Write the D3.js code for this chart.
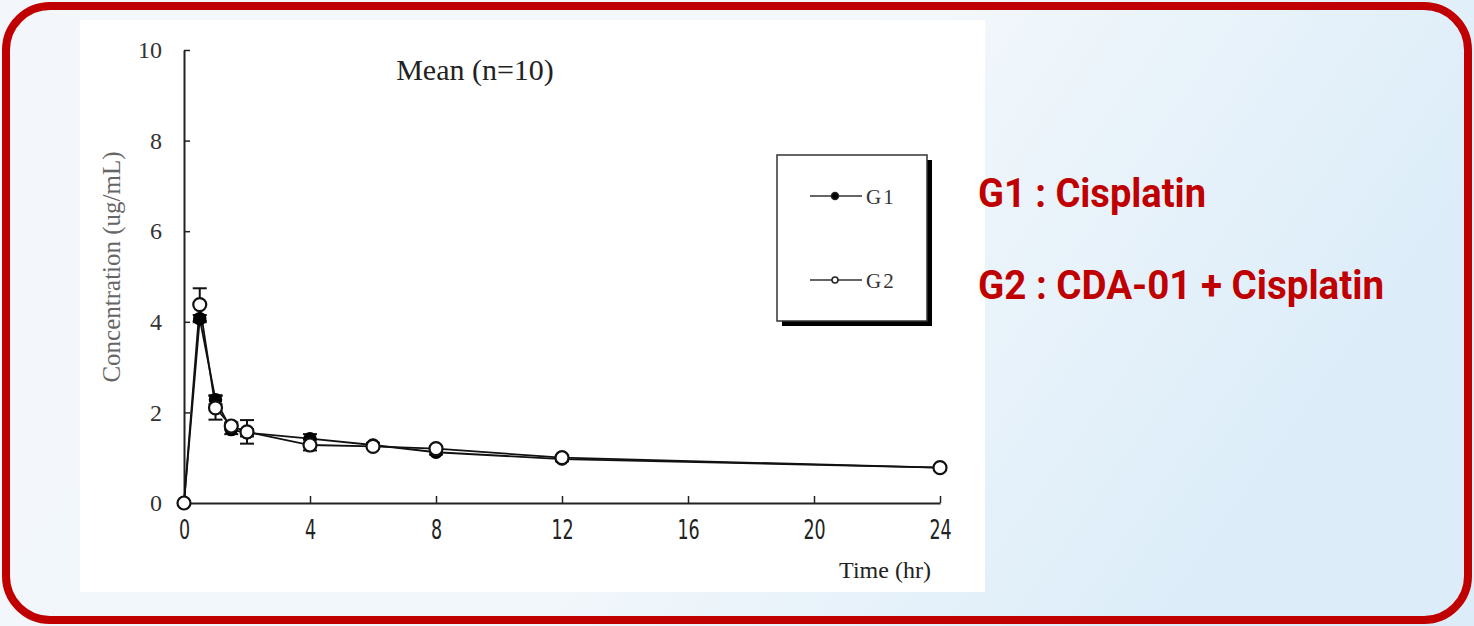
<!DOCTYPE html>
<html><head><meta charset="utf-8">
<script src="https://cdn.jsdelivr.net/npm/d3@7"></script>
<style>
html,body{margin:0;padding:0;overflow:hidden;}
</style></head>
<body>
<svg id="c" width="1474" height="626"></svg>
<script>
const times = [0, 0.5, 1, 1.5, 2, 4, 6, 8, 12, 24];
const g1Values = [0, 4.07, 2.28, 1.62, 1.55, 1.42, 1.28, 1.12, 0.97, 0.78];
const g1Sd     = [0, 0.08, 0.1, 0.1, 0.08, 0.1, 0.05, 0.05, 0.05, 0.03];
const g2Values = [0, 4.38, 2.1, 1.7, 1.57, 1.28, 1.25, 1.2, 1.0, 0.78];
const g2Sd     = [0, 0.36, 0.26, 0.08, 0.26, 0.12, 0.05, 0.05, 0.05, 0.03];
const xTicks = [0, 4, 8, 12, 16, 20, 24];
const yTicks = [0, 2, 4, 6, 8, 10];
const seriesNames = ["G1", "G2"];
const sideNotes = ["G1 : Cisplatin", "G2 : CDA-01 + Cisplatin"];

const svg = d3.select("#c");
const defs = svg.append("defs");
const grad = defs.append("linearGradient").attr("id","bg").attr("x1","0").attr("x2","1").attr("y1","0").attr("y2","0.3");
grad.append("stop").attr("offset","0").attr("stop-color","#f3f7fb");
grad.append("stop").attr("offset","0.6").attr("stop-color","#f2f7fb");
grad.append("stop").attr("offset","1").attr("stop-color","#dcedf9");
svg.append("rect").attr("width",1474).attr("height",626).attr("fill","url(#bg)");

// white panel
svg.append("rect").attr("x",80).attr("y",20).attr("width",905).attr("height",572).attr("fill","#fff");

// red border
svg.append("rect").attr("x",6).attr("y",6).attr("width",1462).attr("height",614)
  .attr("rx",44).attr("fill","none").attr("stroke","#c00000").attr("stroke-width",8);

const x = d3.scaleLinear().domain([0,24]).range([184,940]);
const y = d3.scaleLinear().domain([0,10]).range([503,50]);

const axisColor = "#222";
const gx = svg.append("g").attr("transform","translate(0,503)")
  .call(d3.axisBottom(x).tickValues(xTicks).tickSizeInner(-7).tickSizeOuter(0).tickPadding(17));
const gy = svg.append("g").attr("transform","translate(184,0)")
  .call(d3.axisLeft(y).tickValues(yTicks).tickSizeInner(-6).tickSizeOuter(0).tickPadding(22));
[gx,gy].forEach(g=>{
  g.select(".domain").attr("stroke",axisColor).attr("stroke-width",2);
  g.selectAll(".tick line").attr("stroke",axisColor).attr("stroke-width",1.5);
});
gx.selectAll(".tick text").attr("font-family","'Liberation Sans Narrow','DejaVu Sans Condensed',sans-serif")
  .attr("font-size",27).attr("fill","#222").attr("transform","scale(0.72,1)");
gy.selectAll(".tick text").attr("font-family","'Liberation Serif','DejaVu Serif',serif")
  .attr("font-size",24).attr("fill","#333");

// titles
svg.append("text").attr("x",475).attr("y",80).attr("text-anchor","middle")
  .attr("font-family","'Liberation Serif',serif").attr("font-size",30).attr("fill","#222").text("Mean (n=10)");
svg.append("text").attr("x",885).attr("y",578).attr("text-anchor","middle")
  .attr("font-family","'Liberation Serif',serif").attr("font-size",24).attr("fill","#222").text("Time (hr)");
svg.append("text").attr("transform","translate(120,267) rotate(-90)").attr("text-anchor","middle")
  .attr("font-family","'Liberation Serif',serif").attr("font-size",25).attr("fill","#666").text("Concentration (ug/mL)");

const line = d3.line().x(d=>x(d[0])).y(d=>y(d[1]));
const g1 = times.map((t,i)=>[t,g1Values[i],g1Sd[i]]);
const g2 = times.map((t,i)=>[t,g2Values[i],g2Sd[i]]);

function errBars(data){
  const g = svg.append("g").attr("stroke","#111").attr("stroke-width",2);
  data.filter(d=>d[2]>0).forEach(d=>{
    const cx = x(d[0]);
    g.append("line").attr("x1",cx).attr("x2",cx).attr("y1",y(d[1]-d[2])).attr("y2",y(d[1]+d[2]));
    [d[1]-d[2], d[1]+d[2]].forEach(v=>{
      g.append("line").attr("x1",cx-7).attr("x2",cx+7).attr("y1",y(v)).attr("y2",y(v));
    });
  });
}
errBars(g1); errBars(g2);

svg.append("path").datum(g1).attr("d",line).attr("fill","none").attr("stroke","#111").attr("stroke-width",1.8);
svg.append("path").datum(g2).attr("d",line).attr("fill","none").attr("stroke","#111").attr("stroke-width",1.8);

svg.append("g").selectAll("circle").data(g1).join("circle")
  .attr("cx",d=>x(d[0])).attr("cy",d=>y(d[1])).attr("r",6).attr("fill","#000").attr("stroke","#000").attr("stroke-width",1.5);
svg.append("g").selectAll("circle").data(g2).join("circle")
  .attr("cx",d=>x(d[0])).attr("cy",d=>y(d[1])).attr("r",6.5).attr("fill","#fff").attr("stroke","#111").attr("stroke-width",2.2);

// legend
svg.append("rect").attr("x",782).attr("y",160).attr("width",150).attr("height",166).attr("fill","#000");
svg.append("rect").attr("x",777).attr("y",155).attr("width",150).attr("height",166).attr("fill","#fff").attr("stroke","#333").attr("stroke-width",1.5);
seriesNames.forEach((name,i)=>{
  const ly = 196 + i*84;
  svg.append("line").attr("x1",810).attr("x2",862).attr("y1",ly).attr("y2",ly).attr("stroke","#333").attr("stroke-width",1.5);
  svg.append("circle").attr("cx",835).attr("cy",ly).attr("r",i===0?3.5:3)
    .attr("fill",i===0?"#000":"#fff").attr("stroke","#222").attr("stroke-width",1.5);
  svg.append("text").attr("x",866).attr("y",ly+8).attr("font-family","'Liberation Serif',serif")
    .attr("font-size",21).attr("letter-spacing",2).attr("fill","#333").text(name);
});

// side notes
sideNotes.forEach((t,i)=>{
  svg.append("text").attr("x",978).attr("y",207+i*92)
    .attr("font-family","'Liberation Sans Narrow','Roboto','DejaVu Sans Condensed',sans-serif")
    .attr("font-weight","bold").attr("font-size",40).attr("fill","#c00000")
    .attr("textLength", i===0?228:406).attr("lengthAdjust","spacingAndGlyphs").text(t);
});
</script>
</body></html>
